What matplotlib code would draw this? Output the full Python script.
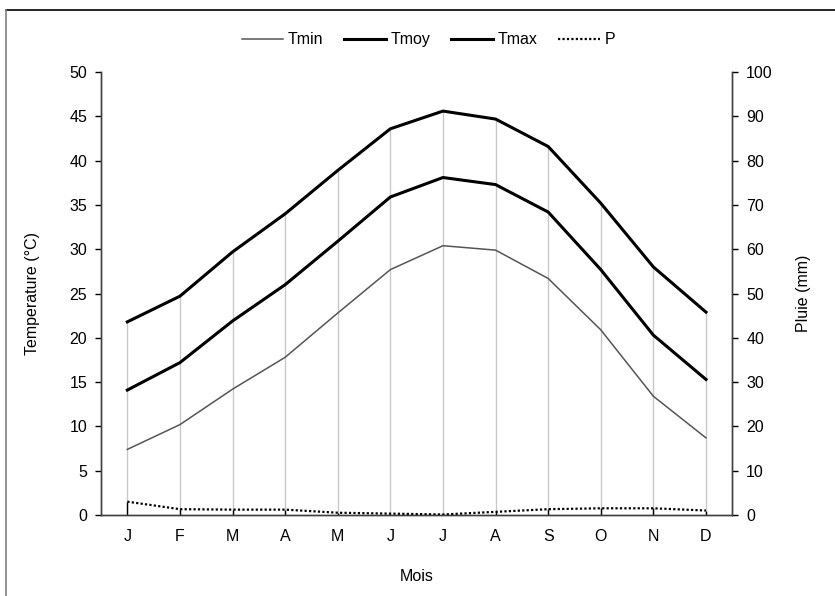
import matplotlib
matplotlib.use("Agg")
import matplotlib.pyplot as plt
from matplotlib.lines import Line2D

plt.rcParams['font.family'] = ['Liberation Sans', 'DejaVu Sans']

months = ["J", "F", "M", "A", "M", "J", "J", "A", "S", "O", "N", "D"]
tmin = [7.4, 10.2, 14.2, 17.8, 22.8, 27.7, 30.4, 29.9, 26.7, 20.9, 13.4, 8.7]
tmoy = [14.1, 17.2, 21.9, 26.0, 30.9, 35.9, 38.1, 37.3, 34.2, 27.7, 20.3, 15.3]
tmax = [21.8, 24.7, 29.7, 34.0, 38.9, 43.6, 45.6, 44.7, 41.6, 35.2, 28.0, 22.9]
pluie = [3.0, 1.3, 1.2, 1.2, 0.5, 0.3, 0.1, 0.7, 1.3, 1.5, 1.5, 1.0]

fig = plt.figure(figsize=(8.35, 5.96), dpi=100)
ax = fig.add_axes([0.121, 0.136, 0.756, 0.743])
ax2 = ax.twinx()

x = range(len(months))

# drop lines from the axis up to Tmax
ax.vlines(x, 0, tmax, color="#c8c8c8", lw=1, zorder=1)
ax2.vlines(x, 0, pluie, color="black", lw=1, zorder=1)

l1, = ax.plot(x, tmin, color="#555555", lw=1.1, label="Tmin", zorder=3)
l2, = ax.plot(x, tmoy, color="black", lw=2.2, label="Tmoy", zorder=3)
l3, = ax.plot(x, tmax, color="black", lw=2.2, label="Tmax", zorder=3)
l4, = ax2.plot(x, pluie, color="black", lw=1.6, ls=(0, (1, 1)), label="P", zorder=3)

ax.set_xlim(-0.5, 11.5)
ax.set_ylim(0, 50)
ax2.set_ylim(0, 100)
ax.set_yticks(range(0, 51, 5))
ax2.set_yticks(range(0, 101, 10))
ax.set_xticks(list(x))
ax.set_xticklabels(months)

for a in (ax, ax2):
    a.tick_params(labelsize=11.5, length=4, width=1, colors="black")
    for s in a.spines.values():
        s.set_color("#404040")
        s.set_linewidth(1)
ax.tick_params(axis="x", length=0, pad=10)
ax.tick_params(axis="y", pad=6)
ax2.tick_params(axis="y", pad=6)
ax.spines["top"].set_visible(False)
ax2.spines["top"].set_visible(False)

ax.set_xlabel("Mois", fontsize=11.5, labelpad=18)
ax.set_ylabel("Temperature (°C)", fontsize=11.5, labelpad=21)
ax2.set_ylabel("Pluie (mm)", fontsize=11.5, labelpad=17)

fig.legend(handles=[l1, l2, l3, l4], loc="center", bbox_to_anchor=(0.513, 0.933),
           ncol=4, frameon=False, fontsize=11.5, handlelength=2.6,
           handletextpad=0.3, columnspacing=1.3)

# outer frame of the chart
fig.add_artist(Line2D([6 / 835, 1], [1 - 10 / 596, 1 - 10 / 596], color="black", lw=1.2))
fig.add_artist(Line2D([6 / 835, 6 / 835], [0, 1 - 10 / 596], color="#808080", lw=1.2))

fig.savefig("out.png", dpi=100)
